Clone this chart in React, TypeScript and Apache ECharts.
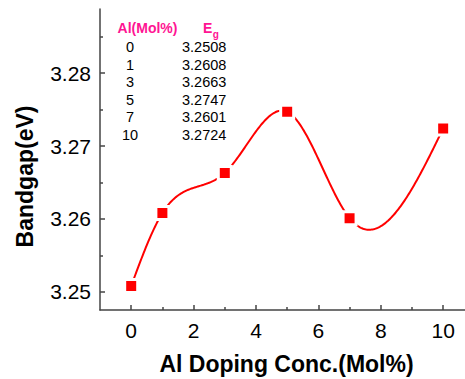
import React, { useEffect, useRef } from "react";
import * as echarts from "echarts";

const alMol = [0, 1, 3, 5, 7, 10];
const bandgap = [3.2508, 3.2608, 3.2663, 3.2747, 3.2601, 3.2724];
const xTickLabels = [0, 2, 4, 6, 8, 10];
const xMinorTicks = [1, 3, 5, 7, 9];
const yTickLabels = [3.25, 3.26, 3.27, 3.28];
const yMinorTicks = [3.255, 3.265, 3.275, 3.285];
const xRange = [-1, 10.7];
const yRange = [3.2475, 3.2888];

const FONT = "'Liberation Sans', Arial, Helvetica, sans-serif";
const AXIS_COLOR = "#444";
const PINK = "#FF1493";

// natural cubic spline through the data points (used to draw the connecting curve)
function naturalSpline(xs: number[], ys: number[]) {
  const n = xs.length;
  const h: number[] = [];
  for (let i = 0; i < n - 1; i++) h.push(xs[i + 1] - xs[i]);
  const a: number[] = new Array(n).fill(0);
  const b: number[] = new Array(n).fill(1);
  const c: number[] = new Array(n).fill(0);
  const d: number[] = new Array(n).fill(0);
  for (let i = 1; i < n - 1; i++) {
    a[i] = h[i - 1];
    b[i] = 2 * (h[i - 1] + h[i]);
    c[i] = h[i];
    d[i] = 6 * ((ys[i + 1] - ys[i]) / h[i] - (ys[i] - ys[i - 1]) / h[i - 1]);
  }
  const cp = new Array(n).fill(0);
  const dp = new Array(n).fill(0);
  cp[0] = c[0] / b[0];
  dp[0] = d[0] / b[0];
  for (let i = 1; i < n; i++) {
    const m = b[i] - a[i] * cp[i - 1];
    cp[i] = c[i] / m;
    dp[i] = (d[i] - a[i] * dp[i - 1]) / m;
  }
  const M = new Array(n).fill(0);
  M[n - 1] = dp[n - 1];
  for (let i = n - 2; i >= 0; i--) M[i] = dp[i] - cp[i] * M[i + 1];
  return (x: number) => {
    let i = 0;
    while (i < n - 2 && x > xs[i + 1]) i++;
    const hi = h[i];
    const t1 = xs[i + 1] - x;
    const t0 = x - xs[i];
    return (
      (M[i] * t1 * t1 * t1) / (6 * hi) +
      (M[i + 1] * t0 * t0 * t0) / (6 * hi) +
      (ys[i] / hi - (M[i] * hi) / 6) * t1 +
      (ys[i + 1] / hi - (M[i + 1] * hi) / 6) * t0
    );
  };
}

export default function App() {
  const ref = useRef<HTMLDivElement>(null);

  useEffect(() => {
    document.body.style.margin = "0";
    if (!ref.current) return;
    const chart = echarts.init(ref.current, null, { renderer: "svg" });
    const spline = naturalSpline(alMol, bandgap);
    const points = alMol.map((x, i) => [x, bandgap[i]]);

    const gridRect = { left: 100, right: 0, top: 9, bottom: 69 };

    const tableTexts: any[] = [];
    tableTexts.push({
      type: "text",
      x: 147.5,
      y: 28,
      style: { text: "Al(Mol%)", fill: PINK, font: `bold 14px ${FONT}`, align: "center", verticalAlign: "middle" },
    });
    tableTexts.push({
      type: "text",
      x: 203,
      y: 17,
      style: {
        text: "{e|E}{g|g}",
        align: "left",
        verticalAlign: "top",
        rich: {
          e: { fill: PINK, fontSize: 14, fontWeight: "bold", fontFamily: FONT, lineHeight: 22 },
          g: { fill: PINK, fontSize: 10, fontWeight: "bold", fontFamily: FONT, lineHeight: 11, verticalAlign: "bottom", padding: [0, 0, 0, 0.5] },
        },
      },
    });
    alMol.forEach((v, i) => {
      const y = 47 + i * 17.5;
      tableTexts.push({
        type: "text",
        x: 130,
        y,
        style: { text: String(v), fill: "#000", font: `14.5px ${FONT}`, align: "center", verticalAlign: "middle" },
      });
      tableTexts.push({
        type: "text",
        x: 182,
        y,
        style: { text: bandgap[i].toFixed(4), fill: "#000", font: `14.5px ${FONT}`, align: "left", verticalAlign: "middle" },
      });
    });

    const axisLineStyle = { color: AXIS_COLOR, width: 1.5 };

    chart.setOption({
      animation: false,
      backgroundColor: "#fff",
      textStyle: { fontFamily: FONT },
      grid: [
        { ...gridRect, outerBoundsMode: "none", containLabel: false },
        { ...gridRect, outerBoundsMode: "none", containLabel: false },
      ],
      xAxis: [
        {
          type: "value",
          gridIndex: 0,
          min: xRange[0],
          max: xRange[1],
          position: "bottom",
          axisLine: { show: true, onZero: false, lineStyle: axisLineStyle },
          axisTick: { show: true, inside: true, length: 5, customValues: xTickLabels, lineStyle: axisLineStyle },
          axisLabel: {
            customValues: xTickLabels,
            margin: 10,
            fontSize: 21,
            color: "#000",
            fontFamily: FONT,
            formatter: (v: number) => String(v),
          },
          splitLine: { show: false },
          name: "Al Doping Conc.(Mol%)",
          nameLocation: "middle",
          nameGap: 42,
          nameTextStyle: { fontSize: 23, fontWeight: "bold", color: "#000", fontFamily: FONT, padding: [0, 0, 0, 8] },
        },
        {
          type: "value",
          gridIndex: 1,
          min: xRange[0],
          max: xRange[1],
          position: "bottom",
          axisLine: { show: false, onZero: false },
          axisTick: { show: true, inside: true, length: 3, customValues: xMinorTicks, lineStyle: axisLineStyle },
          axisLabel: { show: false },
          splitLine: { show: false },
        },
      ],
      yAxis: [
        {
          type: "value",
          gridIndex: 0,
          min: yRange[0],
          max: yRange[1],
          position: "left",
          axisLine: { show: true, onZero: false, lineStyle: axisLineStyle },
          axisTick: { show: true, inside: true, length: 5, customValues: yTickLabels, lineStyle: axisLineStyle },
          axisLabel: {
            customValues: yTickLabels,
            margin: 9,
            fontSize: 21,
            color: "#000",
            fontFamily: FONT,
            formatter: (v: number) => v.toFixed(2),
          },
          splitLine: { show: false },
          name: "Bandgap(eV)",
          nameLocation: "middle",
          nameGap: 64,
          nameTextStyle: { fontSize: 23, fontWeight: "bold", color: "#000", fontFamily: FONT, padding: [0, 34, 0, 0] },
        },
        {
          type: "value",
          gridIndex: 1,
          min: yRange[0],
          max: yRange[1],
          position: "left",
          axisLine: { show: false, onZero: false },
          axisTick: { show: true, inside: true, length: 3, customValues: yMinorTicks, lineStyle: axisLineStyle },
          axisLabel: { show: false },
          splitLine: { show: false },
        },
      ],
      series: [
        {
          type: "custom",
          xAxisIndex: 0,
          yAxisIndex: 0,
          data: points,
          encode: { x: 0, y: 1 },
          z: 2,
          silent: true,
          renderItem: (params: any, api: any) => {
            if (params.dataIndex !== 0) return null;
            const pts: number[][] = [];
            const x0 = alMol[0];
            const x1 = alMol[alMol.length - 1];
            const steps = 300;
            for (let k = 0; k <= steps; k++) {
              const x = x0 + ((x1 - x0) * k) / steps;
              pts.push(api.coord([x, spline(x)]));
            }
            return {
              type: "polyline",
              shape: { points: pts },
              style: { stroke: "#FF0000", lineWidth: 2, fill: null },
            };
          },
        },
        {
          type: "scatter",
          xAxisIndex: 0,
          yAxisIndex: 0,
          data: points,
          symbol: "rect",
          symbolSize: 13,
          z: 3,
          itemStyle: { color: "#FF0000", borderColor: "#fff", borderWidth: 3, opacity: 1 },
        },
      ],
      graphic: tableTexts,
    });

    return () => chart.dispose();
  }, []);

  return (
    <div
      ref={ref}
      style={{ width: 465, height: 379, position: "absolute", left: 0, top: 0 }}
    />
  );
}
